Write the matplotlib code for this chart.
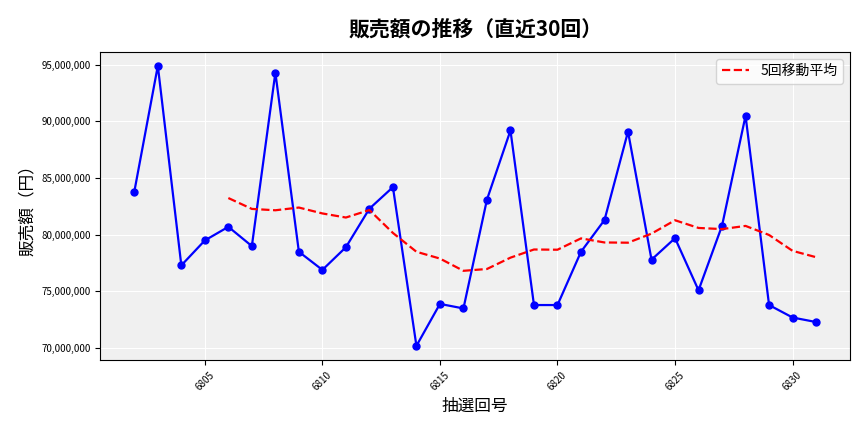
import matplotlib
matplotlib.use("Agg")
import matplotlib.pyplot as plt
import matplotlib.ticker as mticker
import pandas as pd

plt.rcParams["font.family"] = ["Noto Sans CJK JP", "DejaVu Sans"]

draws = list(range(6802, 6832))
sales = [
    83.8, 94.9, 77.3, 79.5, 80.7, 79.0, 94.3, 78.5, 76.9, 78.9,
    82.3, 84.2, 70.2, 73.9, 73.5, 83.1, 89.2, 73.8, 73.8, 78.5,
    81.3, 89.1, 77.8, 79.7, 75.1, 80.8, 90.5, 73.8, 72.7, 72.3,
]
sales = [v * 1e6 for v in sales]
ma5 = pd.Series(sales).rolling(5).mean()

fig, ax = plt.subplots(figsize=(8.64, 4.32), dpi=100)
fig.subplots_adjust(left=0.116, right=0.984, top=0.88, bottom=0.167)
ax.set_facecolor("#f0f0f0")
ax.grid(True, color="white", linewidth=0.8)
ax.set_axisbelow(True)

ax.plot(draws, sales, color="blue", marker="o", markersize=5, linewidth=1.6)
ax.plot(draws, ma5, color="red", linestyle="--", linewidth=1.6, label="5回移動平均")

ax.set_title("販売額の推移（直近30回）", fontsize=15, fontweight="bold", pad=12)
ax.set_xlabel("抽選回号", fontsize=12)
ax.set_ylabel("販売額（円）", fontsize=12)
ax.yaxis.set_major_formatter(mticker.FuncFormatter(lambda v, p: f"{int(v):,}"))
ax.xaxis.set_major_locator(mticker.MultipleLocator(5))
ax.tick_params(axis="both", labelsize=7)
plt.setp(ax.get_xticklabels(), rotation=45)
ax.legend(loc="upper right", fontsize=10)

fig.savefig("out.png", dpi=100)
